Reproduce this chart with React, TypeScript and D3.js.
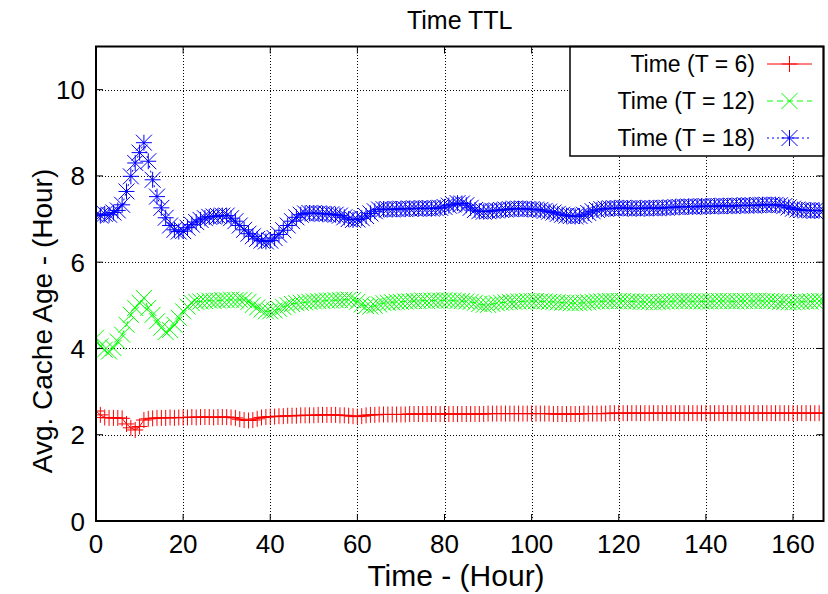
import React from "react";
import * as d3 from "d3";

const title = "Time TTL";
const xLabel = "Time - (Hour)";
const yLabel = "Avg. Cache Age - (Hour)";
const xTicks = [0, 20, 40, 60, 80, 100, 120, 140, 160];
const yTicks = [0, 2, 4, 6, 8, 10];
const seriesNames = ["Time (T = 6)", "Time (T = 12)", "Time (T = 18)"];

const t6 = [
  2.55, 2.46, 2.40, 2.39, 2.39, 2.39, 2.38, 2.25, 2.16, 2.11,
  2.19, 2.34, 2.37, 2.38, 2.39, 2.39, 2.39, 2.40, 2.39, 2.40,
  2.40, 2.40, 2.41, 2.40, 2.41, 2.41, 2.41, 2.40, 2.41, 2.41,
  2.41, 2.40, 2.39, 2.36, 2.34, 2.33, 2.34, 2.37, 2.40, 2.41,
  2.42, 2.42, 2.43, 2.43, 2.44, 2.44, 2.44, 2.45, 2.45, 2.45,
  2.45, 2.46, 2.46, 2.46, 2.46, 2.46, 2.45, 2.45, 2.44, 2.43,
  2.42, 2.43, 2.45, 2.46, 2.46, 2.47, 2.47, 2.47, 2.47, 2.47,
  2.47, 2.47, 2.48, 2.48, 2.48, 2.48, 2.48, 2.48, 2.48, 2.48,
  2.48, 2.48, 2.48, 2.48, 2.48, 2.48, 2.48, 2.48, 2.48, 2.48,
  2.49, 2.49, 2.49, 2.49, 2.49, 2.49, 2.49, 2.49, 2.49, 2.49,
  2.49, 2.49, 2.49, 2.49, 2.49, 2.48, 2.48, 2.48, 2.48, 2.48,
  2.48, 2.48, 2.49, 2.49, 2.49, 2.49, 2.49, 2.49, 2.50, 2.50,
  2.50, 2.50, 2.50, 2.50, 2.50, 2.50, 2.50, 2.50, 2.50, 2.50,
  2.50, 2.50, 2.50, 2.50, 2.50, 2.50, 2.50, 2.50, 2.50, 2.50,
  2.50, 2.50, 2.50, 2.50, 2.50, 2.50, 2.50, 2.50, 2.50, 2.50,
  2.50, 2.50, 2.50, 2.50, 2.50, 2.50, 2.50, 2.50, 2.50, 2.50,
  2.50, 2.50, 2.50, 2.50, 2.50, 2.50, 2.50, 2.50,
];

const t12 = [
  4.25, 4.05, 3.97, 3.93, 4.01, 4.16, 4.32, 4.55, 4.78, 4.94,
  5.06, 5.17, 4.94, 4.78, 4.63, 4.48, 4.38, 4.43, 4.55, 4.71,
  4.86, 4.97, 5.05, 5.08, 5.09, 5.10, 5.11, 5.10, 5.11, 5.12,
  5.12, 5.13, 5.12, 5.13, 5.12, 5.08, 5.01, 4.95, 4.90, 4.86,
  4.86, 4.88, 4.92, 4.96, 5.00, 5.03, 5.05, 5.06, 5.07, 5.08,
  5.09, 5.10, 5.10, 5.11, 5.11, 5.12, 5.12, 5.13, 5.13, 5.12,
  5.08, 5.02, 4.98, 4.97, 4.99, 5.02, 5.05, 5.06, 5.07, 5.08,
  5.08, 5.09, 5.09, 5.10, 5.10, 5.11, 5.10, 5.11, 5.11, 5.11,
  5.12, 5.11, 5.11, 5.10, 5.10, 5.09, 5.08, 5.06, 5.03, 5.01,
  5.01, 5.03, 5.05, 5.06, 5.07, 5.08, 5.08, 5.09, 5.09, 5.10,
  5.10, 5.10, 5.09, 5.09, 5.08, 5.08, 5.07, 5.06, 5.06, 5.05,
  5.05, 5.05, 5.06, 5.07, 5.08, 5.09, 5.09, 5.10, 5.10, 5.10,
  5.10, 5.10, 5.09, 5.09, 5.09, 5.08, 5.08, 5.08, 5.07, 5.08,
  5.08, 5.09, 5.09, 5.10, 5.10, 5.10, 5.10, 5.09, 5.09, 5.09,
  5.09, 5.09, 5.10, 5.10, 5.10, 5.10, 5.09, 5.09, 5.10, 5.10,
  5.10, 5.10, 5.11, 5.10, 5.10, 5.10, 5.09, 5.08, 5.08, 5.07,
  5.07, 5.08, 5.08, 5.09, 5.09, 5.10, 5.10, 5.10,
];

const t18 = [
  7.10, 7.08, 7.12, 7.10, 7.15, 7.20, 7.33, 7.64, 7.99, 8.30,
  8.54, 8.77, 8.34, 7.91, 7.52, 7.26, 7.03, 6.85, 6.75, 6.71,
  6.72, 6.80, 6.87, 6.93, 6.98, 7.02, 7.05, 7.06, 7.07, 7.08,
  7.08, 7.02, 6.95, 6.85, 6.75, 6.66, 6.60, 6.54, 6.50, 6.48,
  6.50, 6.56, 6.64, 6.74, 6.85, 6.95, 7.04, 7.10, 7.13, 7.14,
  7.14, 7.13, 7.12, 7.12, 7.11, 7.10, 7.08, 7.04, 7.00, 6.98,
  6.99, 7.02, 7.07, 7.13, 7.18, 7.22, 7.23, 7.23, 7.22, 7.23,
  7.24, 7.23, 7.24, 7.25, 7.24, 7.25, 7.25, 7.24, 7.25, 7.26,
  7.28, 7.31, 7.34, 7.37, 7.36, 7.32, 7.26, 7.21, 7.18, 7.17,
  7.18, 7.19, 7.20, 7.21, 7.22, 7.23, 7.24, 7.24, 7.24, 7.23,
  7.23, 7.22, 7.21, 7.19, 7.17, 7.15, 7.12, 7.10, 7.08, 7.07,
  7.06, 7.07, 7.10, 7.14, 7.18, 7.21, 7.23, 7.24, 7.25, 7.25,
  7.25, 7.26, 7.25, 7.25, 7.24, 7.25, 7.25, 7.26, 7.25, 7.25,
  7.26, 7.26, 7.27, 7.28, 7.28, 7.29, 7.29, 7.28, 7.29, 7.30,
  7.30, 7.29, 7.30, 7.30, 7.31, 7.30, 7.30, 7.31, 7.31, 7.32,
  7.32, 7.31, 7.32, 7.33, 7.33, 7.33, 7.33, 7.32, 7.30, 7.27,
  7.24, 7.22, 7.21, 7.20, 7.20, 7.19, 7.20, 7.20,
];

const hours = t6.map((_, i) => i);

const W = 828;
const H = 594;
const L = 96;
const R = 823.5;
const T = 46.5;
const B = 521;
const FONT = "'Liberation Sans', Arial, Helvetica, sans-serif";

const colors = ["#ff0000", "#00ff00", "#0000ff"];
const dashes = [undefined, "6,4", "2,3"];
const S = 8;

function marker(kind: number, x: number, y: number, color: string, key: string) {
  const plus = `M${x - S},${y}H${x + S}M${x},${y - S}V${y + S}`;
  const cross = `M${x - S},${y - S}L${x + S},${y + S}M${x - S},${y + S}L${x + S},${y - S}`;
  const d = kind === 0 ? plus : kind === 1 ? cross : plus + cross;
  return <path key={key} d={d} stroke={color} strokeWidth={1} fill="none" />;
}

export default function App() {
  const x = d3.scaleLinear().domain([0, 167]).range([L, R]);
  const y = d3.scaleLinear().domain([0, 11]).range([B, T]);
  const series = [t6, t12, t18];
  const line = d3
    .line<number>()
    .x((_, i) => x(hours[i]))
    .y((d) => y(d));

  const legendRows = [64, 101, 138];

  return (
    <svg
      width={W}
      height={H}
      style={{ position: "absolute", left: 0, top: 0, background: "#fff" }}
      fontFamily={FONT}
    >
      <rect x={0} y={0} width={W} height={H} fill="#fff" />
      {/* grid */}
      {xTicks
        .filter((t) => t !== 0)
        .map((t) => (
          <line
            key={"gx" + t}
            x1={Math.round(x(t)) + 0.5}
            x2={Math.round(x(t)) + 0.5}
            y1={B}
            y2={T}
            stroke="#000"
            strokeWidth={1}
            strokeDasharray="1,2"
          />
        ))}
      {yTicks
        .filter((t) => t !== 0)
        .map((t) => (
          <line
            key={"gy" + t}
            x1={L}
            x2={R}
            y1={Math.round(y(t)) + 0.5}
            y2={Math.round(y(t)) + 0.5}
            stroke="#000"
            strokeWidth={1}
            strokeDasharray="1,2"
          />
        ))}
      {/* series */}
      <defs>
        <clipPath id="plotclip">
          <rect x={L} y={T} width={R - L} height={B - T} />
        </clipPath>
      </defs>
      <g clipPath="url(#plotclip)">
        {series.map((s, k) => (
          <g key={"s" + k}>
            <path d={line(s) || ""} fill="none" stroke={colors[k]} strokeWidth={1} strokeDasharray={dashes[k]} />
            {s.map((v, i) => marker(k, x(hours[i]), y(v), colors[k], `m${k}-${i}`))}
          </g>
        ))}
      </g>
      {/* ticks */}
      {xTicks.map((t) => (
        <g key={"tx" + t}>
          <line x1={x(t)} x2={x(t)} y1={B} y2={B - 7} stroke="#000" strokeWidth={1} />
          <line x1={x(t)} x2={x(t)} y1={T} y2={T + 7} stroke="#000" strokeWidth={1} />
          <text x={x(t)} y={553} fontSize={26} textAnchor="middle" fill="#000">
            {t}
          </text>
        </g>
      ))}
      {yTicks.map((t) => (
        <g key={"ty" + t}>
          <line x1={L} x2={L + 7} y1={y(t)} y2={y(t)} stroke="#000" strokeWidth={1} />
          <line x1={R} x2={R - 7} y1={y(t)} y2={y(t)} stroke="#000" strokeWidth={1} />
          <text x={85} y={y(t) + 9.5} fontSize={26} textAnchor="end" fill="#000">
            {t}
          </text>
        </g>
      ))}
      {/* legend */}
      <rect x={570} y={T} width={R - 570} height={156 - T} fill="#fff" stroke="#000" strokeWidth={1.5} />
      {seriesNames.map((n, k) => {
        const ly = legendRows[k];
        return (
          <g key={"lg" + k}>
            <text x={755} y={ly + 8} fontSize={23} textAnchor="end" fill="#000">
              {n}
            </text>
            <line x1={767} x2={812} y1={ly} y2={ly} stroke={colors[k]} strokeWidth={1} strokeDasharray={dashes[k]} />
            {marker(k, 789.5, ly, colors[k], "lm" + k)}
          </g>
        );
      })}
      {/* border */}
      <rect x={L} y={T} width={R - L} height={B - T} fill="none" stroke="#000" strokeWidth={2} />
      {/* labels */}
      <text x={(L + R) / 2} y={29} fontSize={25} textAnchor="middle" fill="#000">
        {title}
      </text>
      <text x={456} y={586} fontSize={30} textAnchor="middle" fill="#000">
        {xLabel}
      </text>
      <text
        transform={`translate(52, 321) rotate(-90)`}
        fontSize={28}
        textAnchor="middle"
        fill="#000"
      >
        {yLabel}
      </text>
    </svg>
  );
}
